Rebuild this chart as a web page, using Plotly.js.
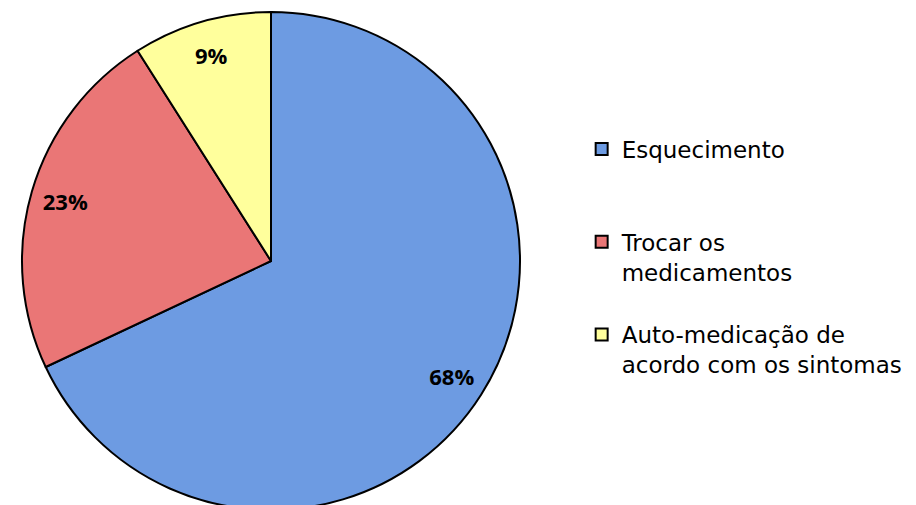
<!DOCTYPE html>
<html>
<head>
<meta charset="utf-8">
<script src="https://cdn.plot.ly/plotly-3.0.1.min.js"></script>
<style>
  html, body { margin: 0; padding: 0; overflow: hidden; background: #fff; }
  #chart { width: 916px; height: 520px; }
</style>
</head>
<body>
<div id="chart"></div>
<script>
// Motivos de erro na toma da medicação (% de respostas)
const categories = [
  "Esquecimento",
  "Trocar os<br>medicamentos",
  "Auto-medicação de<br>acordo com os sintomas"
];
const shares = [68, 23, 9];
const sliceColors = ["#6d9be2", "#ea7676", "#ffff9c"];

// legend entries get a trailing empty line so the three items sit further apart
const legendNames = categories.map((c, i) => c + (i === 0 ? "<br> <br> " : "<br> "));

const domain = { x: [22 / 916, 520 / 916], y: [0, 1] };
const labelFont = { family: "Open Sans, DejaVu Sans, sans-serif", size: 22, color: "#000", weight: "bold" };

// filled pie with legend
const pie = {
  type: "pie",
  labels: legendNames,
  values: shares,
  sort: false,
  direction: "clockwise",
  rotation: 0,
  marker: { colors: sliceColors, line: { color: "#000", width: 2 } },
  textinfo: "none",
  hoverinfo: "none",
  domain: domain
};

// transparent ring on top carrying the percentage labels near the rim
const labelRing = {
  type: "pie",
  labels: categories,
  values: shares,
  sort: false,
  direction: "clockwise",
  rotation: 0,
  hole: 0.72,
  marker: { colors: ["rgba(0,0,0,0)", "rgba(0,0,0,0)", "rgba(0,0,0,0)"], line: { width: 0 } },
  texttemplate: "%{value}%",
  textposition: "inside",
  insidetextorientation: "horizontal",
  textfont: labelFont,
  showlegend: false,
  hoverinfo: "none",
  domain: domain
};

const layout = {
  width: 916,
  height: 520,
  margin: { l: 0, r: 0, t: 12, b: 10 },
  paper_bgcolor: "#fff",
  showlegend: true,
  legend: {
    x: 0.635, xanchor: "left",
    y: 0.768, yanchor: "top",
    valign: "top",
    font: { family: "DejaVu Sans, sans-serif", size: 23, color: "#000" },
    itemwidth: 30,
    tracegroupgap: 0
  }
};

Plotly.newPlot("chart", [pie, labelRing], layout, { displayModeBar: false, staticPlot: true });
</script>
</body>
</html>
